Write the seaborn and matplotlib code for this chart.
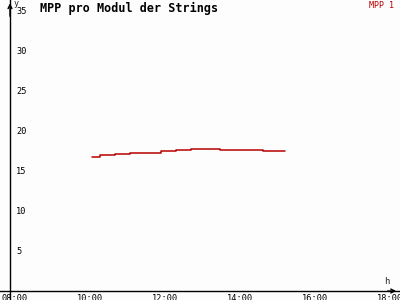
import matplotlib
matplotlib.use("Agg")
import matplotlib.pyplot as plt
import seaborn as sns
import pandas as pd

# Data (hours of day, MPP per module)
hours = [10.05, 10.27, 10.67, 11.07, 11.47, 11.9, 12.3, 12.7, 13.47, 14.6, 15.2]
values = [16.8, 16.95, 17.1, 17.2, 17.3, 17.45, 17.6, 17.7, 17.6, 17.45, 17.45]
series_name = "MPP 1"
x_ticks = [8, 10, 12, 14, 16, 18]
x_tick_labels = ["08:00", "10:00", "12:00", "14:00", "16:00", "18:00"]
y_ticks = [5, 10, 15, 20, 25, 30, 35]
title = "MPP pro Modul der Strings"

df = pd.DataFrame({"h": hours, "v": values, "s": series_name})

sns.set_style("white")
plt.rcParams["font.family"] = ["DejaVu Sans Mono"]

fig = plt.figure(figsize=(4, 3), dpi=100)
fig.patch.set_facecolor("#fdfdfd")
ax = fig.add_axes([0, 0, 1, 1])
ax.set_facecolor("#fdfdfd")

red = "#b80000"
sns.lineplot(data=df, x="h", y="v", ax=ax, color=red, linewidth=1.1,
             drawstyle="steps-post", legend=False)

x0 = 8 + (0 - 15) / 37.5
x1 = 8 + (400 - 15) / 37.5
y0 = (291 - 300) / 8
y1 = 291 / 8
ax.set_xlim(x0, x1)
ax.set_ylim(y0, y1)

yaxis_x = 8 + (10 - 15) / 37.5
for s in ["top", "right"]:
    ax.spines[s].set_visible(False)
ax.spines["left"].set_position(("data", yaxis_x))
ax.spines["bottom"].set_position(("data", 0))
ax.spines["left"].set_color("black")
ax.spines["bottom"].set_color("black")
ax.spines["left"].set_linewidth(1)
ax.spines["bottom"].set_linewidth(1)

# arrows
ax.annotate("", xy=(x0 + 399 / 37.5, 0), xytext=(x0 + 385 / 37.5, 0),
            arrowprops=dict(arrowstyle="->", color="black", lw=1, mutation_scale=7))
ax.annotate("", xy=(yaxis_x, y1 - 0.05), xytext=(yaxis_x, 34),
            arrowprops=dict(arrowstyle="->", color="black", lw=1, mutation_scale=7))

ax.set_xticks(x_ticks)
ax.set_xticklabels(x_tick_labels)
ax.set_yticks(y_ticks)
ax.set_yticklabels([str(t) for t in y_ticks])
ax.tick_params(axis="both", direction="inout", length=5, width=1, colors="black",
               labelsize=6.2)
ax.tick_params(axis="x", pad=-0.5)
ax.tick_params(axis="y", pad=-7)
for lab in ax.get_yticklabels():
    lab.set_horizontalalignment("left")
ax.set_xlabel("")
ax.set_ylabel("")

fig.text(40 / 400, 1 - 8 / 300, title, fontsize=8.5, fontweight="bold",
         ha="left", va="center", color="black")
fig.text(394 / 400, 1 - 5 / 300, series_name, fontsize=6, ha="right",
         va="center", color=red)
fig.text(14 / 400, 1 - 3 / 300, "y", fontsize=6, ha="left", va="center")
fig.text(387 / 400, 1 - 282 / 300, "h", fontsize=6.5, ha="center", va="center")

fig.savefig("out.png", dpi=100, facecolor=fig.get_facecolor())
